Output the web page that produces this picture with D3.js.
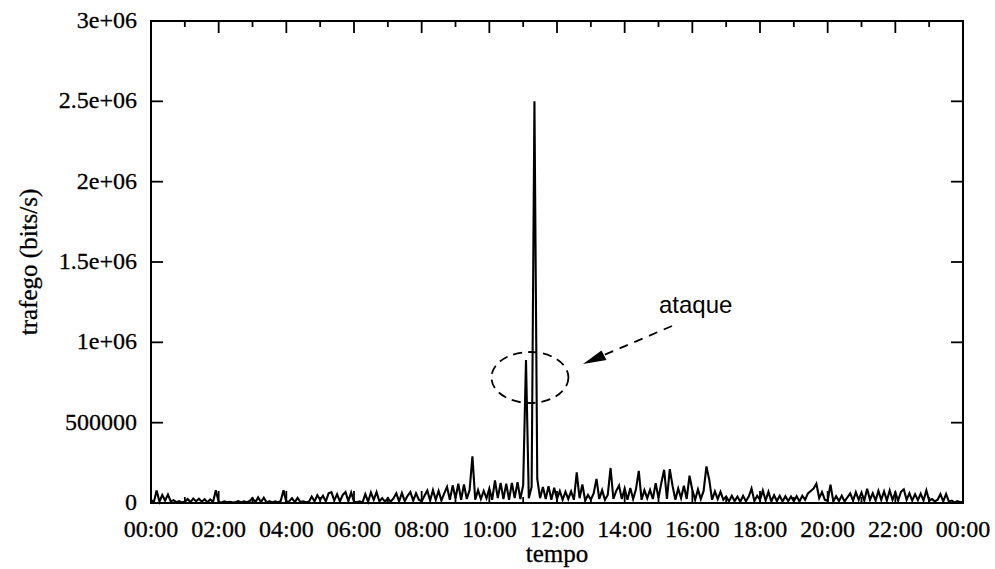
<!DOCTYPE html>
<html>
<head>
<meta charset="utf-8">
<script src="https://cdn.jsdelivr.net/npm/d3@7"></script>
<style>
  html, body { margin: 0; padding: 0; background: #fff; }
  svg { display: block; }
</style>
</head>
<body>
<svg id="chart" width="995" height="569"></svg>
<script>
// ---- data (traffic in kbit/s, one sample every 5 minutes from 00:00 to 24:00) ----
const sampleStepMinutes = 5;
const trafficKbps = [
  // 00h
  20, 5, 78, 8, 50, 15, 52, 10, 18, 5, 12, 4,
  // 01h
  8, 25, 6, 28, 10, 26, 8, 24, 5, 22, 6, 80,
  // 02h
  6, 3, 10, 4, 8, 3, 6, 12, 4, 10, 5, 12,
  // 03h
  30, 5, 35, 6, 33, 4, 12, 3, 10, 4, 12, 80,
  // 04h
  6, 10, 30, 5, 32, 6, 10, 4, 8, 40, 10, 48,
  // 05h
  20, 45, 10, 60, 68, 15, 55, 10, 50, 68, 12, 65,
  // 06h
  8, 4, 10, 3, 55, 8, 65, 20, 68, 10, 30, 8,
  // 07h
  30, 8, 28, 60, 10, 62, 12, 45, 68, 15, 60, 20,
  // 08h
  10, 45, 78, 15, 80, 20, 75, 15, 60, 100, 20, 110,
  // 09h
  30, 120, 20, 115, 25, 80, 290, 20, 80, 25, 75, 30,
  // 10h
  90, 20, 140, 30, 125, 25, 120, 20, 125, 30, 130, 25,
  // 11h
  110, 890, 30, 100, 2500, 150, 30, 100, 25, 105, 20, 95,
  // 12h
  25, 75, 20, 70, 25, 72, 20, 190, 30, 115, 15, 50,
  // 13h
  20, 60, 150, 25, 80, 20, 50, 218, 25, 75, 108, 25,
  // 14h
  90, 20, 93, 25, 85, 200, 20, 80, 30, 82, 25, 124,
  // 15h
  30, 124, 207, 25, 211, 105, 20, 90, 30, 108, 25, 170,
  // 16h
  80, 20, 85, 25, 75, 228, 145, 20, 72, 25, 70, 20,
  // 17h
  40, 10, 45, 12, 40, 8, 45, 10, 40, 90, 12, 45,
  // 18h
  20, 78, 15, 70, 10, 48, 12, 45, 10, 42, 12, 40,
  // 19h
  12, 42, 10, 45, 20, 60, 75, 90, 120, 30, 68, 20,
  // 20h
  15, 114, 10, 42, 12, 45, 10, 35, 60, 15, 68, 20,
  // 21h
  65, 15, 89, 20, 60, 15, 75, 20, 72, 15, 78, 20,
  // 22h
  65, 15, 70, 85, 20, 60, 15, 55, 18, 58, 15, 78,
  // 23h
  15, 25, 10, 20, 55, 10, 56, 8, 15, 4, 12, 5,
  // 24:00
  8
];
const yTickValues = [0, 500000, 1000000, 1500000, 2000000, 2500000, 3000000];
const yTickLabels = ["0", "500000", "1e+06", "1.5e+06", "2e+06", "2.5e+06", "3e+06"];
const xLabelMinutes = [0, 120, 240, 360, 480, 600, 720, 840, 960, 1080, 1200, 1320, 1440];
const xTickLabels = ["00:00", "02:00", "04:00", "06:00", "08:00", "10:00", "12:00",
                     "14:00", "16:00", "18:00", "20:00", "22:00", "00:00"];
const xTitle = "tempo";
const yTitle = "trafego (bits/s)";
const annotationText = "ataque";

// ---- layout ----
const svg = d3.select("#chart");
const L = 151, R = 963, T = 21, B = 503;
const serif = "'Liberation Serif', 'Times New Roman', serif";
const sans = "'Liberation Sans', Arial, sans-serif";

const x = d3.scaleLinear().domain([0, 1440]).range([L, R]);
const y = d3.scaleLinear().domain([0, 3000000]).range([B, T]);

const series = trafficKbps.map((v, i) => ({ t: i * sampleStepMinutes, v: v * 1000 }));

// data line
svg.append("path")
  .datum(series)
  .attr("fill", "none")
  .attr("stroke", "#000")
  .attr("stroke-width", 2.1)
  .attr("stroke-linejoin", "miter")
  .attr("d", d3.line().x(d => x(d.t)).y(d => y(d.v)));

// frame
svg.append("rect")
  .attr("x", L).attr("y", T).attr("width", R - L).attr("height", B - T)
  .attr("fill", "none").attr("stroke", "#000").attr("stroke-width", 2);

// hourly ticks (inward) on top and bottom
const hourTicks = d3.range(0, 1441, 60);
const tickG = svg.append("g").attr("stroke", "#000").attr("stroke-width", 1.8);
hourTicks.forEach(m => {
  const len = (m % 120 === 0) ? 12 : 6;
  tickG.append("line").attr("x1", x(m)).attr("x2", x(m)).attr("y1", B).attr("y2", B - len);
  tickG.append("line").attr("x1", x(m)).attr("x2", x(m)).attr("y1", T).attr("y2", T + len);
});
// y ticks (inward) left and right
yTickValues.forEach(v => {
  tickG.append("line").attr("x1", L).attr("x2", L + 12).attr("y1", y(v)).attr("y2", y(v));
  tickG.append("line").attr("x1", R).attr("x2", R - 12).attr("y1", y(v)).attr("y2", y(v));
});

// y tick labels
svg.append("g").selectAll("text")
  .data(yTickValues)
  .join("text")
  .attr("x", L - 14)
  .attr("y", d => y(d) + 7)
  .attr("text-anchor", "end")
  .attr("font-family", serif)
  .attr("font-size", 24)
  .attr("stroke", "#000").attr("stroke-width", 0.3)
  .text((d, i) => yTickLabels[i]);

// x tick labels
svg.append("g").selectAll("text")
  .data(xLabelMinutes)
  .join("text")
  .attr("x", d => x(d))
  .attr("y", 537)
  .attr("text-anchor", "middle")
  .attr("font-family", serif)
  .attr("font-size", 24)
  .attr("stroke", "#000").attr("stroke-width", 0.3)
  .text((d, i) => xTickLabels[i]);

// axis titles
svg.append("text")
  .attr("x", (L + R) / 2).attr("y", 562)
  .attr("text-anchor", "middle")
  .attr("font-family", serif).attr("font-size", 25)
  .attr("stroke", "#000").attr("stroke-width", 0.3)
  .text(xTitle);

svg.append("text")
  .attr("transform", `translate(37, ${(T + B) / 2}) rotate(-90)`)
  .attr("text-anchor", "middle")
  .attr("font-family", serif).attr("font-size", 25)
  .attr("stroke", "#000").attr("stroke-width", 0.3)
  .text(yTitle);

// annotation: dashed ellipse, dashed arrow and label
const spikeT = 11 * 60 + 12;
svg.append("ellipse")
  .attr("cx", x(spikeT)).attr("cy", 377.5)
  .attr("rx", 38.5).attr("ry", 25.5)
  .attr("fill", "none").attr("stroke", "#000")
  .attr("stroke-width", 1.8).attr("stroke-dasharray", "9,6");

svg.append("line")
  .attr("x1", 672).attr("y1", 326).attr("x2", 604).attr("y2", 355)
  .attr("stroke", "#000").attr("stroke-width", 1.8)
  .attr("stroke-dasharray", "9,7");
svg.append("path")
  .attr("d", "M583,364 L601.5,350.5 L606.5,360 Z")
  .attr("fill", "#000");

svg.append("text")
  .attr("x", 659).attr("y", 313)
  .attr("font-family", sans).attr("font-size", 24)
  .text(annotationText);
</script>
</body>
</html>
